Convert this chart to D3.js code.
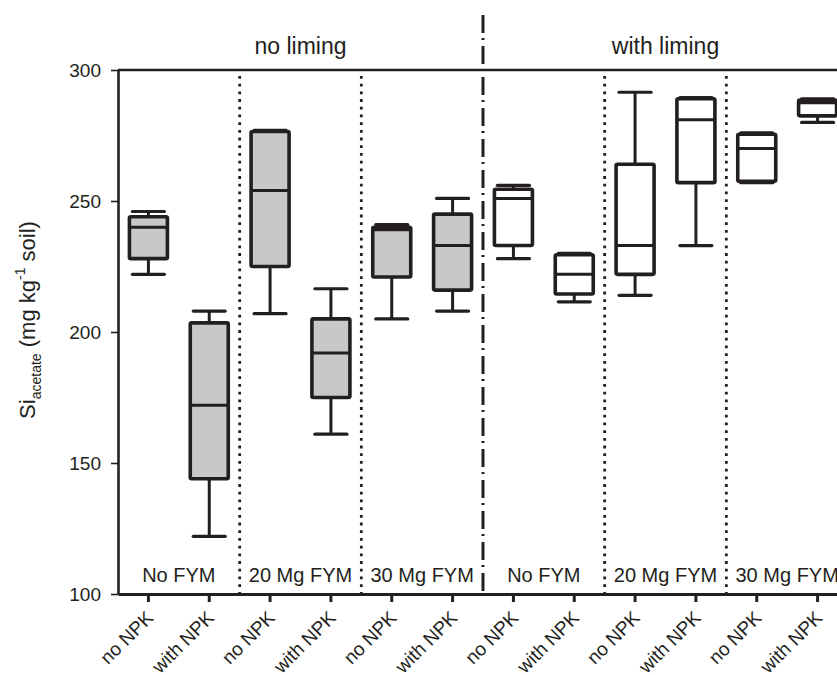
<!DOCTYPE html>
<html>
<head>
<meta charset="utf-8">
<script src="https://cdn.jsdelivr.net/npm/d3@7"></script>
<style>
body { margin: 0; background: #fff; }
text { font-family: "Liberation Sans", Arial, sans-serif; fill: #231f20; }
</style>
</head>
<body>
<div class="content"></div>
<script>
// treatment per box
var npk = ["no NPK","with NPK","no NPK","with NPK","no NPK","with NPK",
           "no NPK","with NPK","no NPK","with NPK","no NPK","with NPK"];
var liming = ["no liming","no liming","no liming","no liming","no liming","no liming",
              "with liming","with liming","with liming","with liming","with liming","with liming"];
var fym = ["No FYM","No FYM","20 Mg FYM","20 Mg FYM","30 Mg FYM","30 Mg FYM",
           "No FYM","No FYM","20 Mg FYM","20 Mg FYM","30 Mg FYM","30 Mg FYM"];
// box values (mg/kg)
var whiskerLow  = [222, 122, 207, 161, 205, 208, 228, 211.5, 214, 233, 257, 280];
var q1          = [228, 144, 225, 175, 221, 216, 233, 214.5, 222, 257, 257.5, 282.5];
var median      = [240, 172, 254, 192, 239, 233, 251, 222, 233, 281, 270, 287.5];
var q3          = [244, 203.5, 276.5, 205, 240, 245, 254.5, 229.5, 264, 289, 275.5, 288.5];
var whiskerHigh = [246, 208, 277, 216.5, 241, 251, 256, 230, 291.5, 289.5, 276, 289];
var yTicks = [100, 150, 200, 250, 300];

var width = 837, height = 675;
var svg = d3.select(".content").append("svg").attr("width", width).attr("height", height);

var ids = d3.range(npk.length);
var x = d3.scaleBand().domain(ids).range([118, 848]).padding(0);
var y = d3.scaleLinear().domain([100, 300]).range([594, 70]);
var ink = "#231f20";
var boxW = 38, capW = 32;

// separators between FYM groups (dotted) and liming (dash-dot)
ids.slice(1).forEach(function(i){
  if (i % 2 !== 0) return;
  var xs = x(i);
  if (i === 6) {
    svg.append("line").attr("x1", xs).attr("x2", xs).attr("y1", 15).attr("y2", y(100))
      .attr("stroke", ink).attr("stroke-width", 3).attr("stroke-dasharray", "18,5,2,6");
  } else {
    svg.append("line").attr("x1", xs).attr("x2", xs).attr("y1", 76).attr("y2", y(100))
      .attr("stroke", ink).attr("stroke-width", 2.8)
      .attr("stroke-dasharray", "2.8,4.9");
  }
});

// top frame
svg.append("line").attr("x1", 118).attr("x2", 848).attr("y1", y(300)).attr("y2", y(300))
  .attr("stroke", ink).attr("stroke-width", 2.6);

// boxes
var g = svg.append("g");
ids.forEach(function(i){
  var cx = x(i) + x.bandwidth() / 2;
  var fill = liming[i] === "no liming" ? "#c8c8c8" : "#fff";
  g.append("line").attr("x1", cx).attr("x2", cx).attr("y1", y(whiskerHigh[i])).attr("y2", y(whiskerLow[i]))
    .attr("stroke", ink).attr("stroke-width", 3);
  [whiskerHigh[i], whiskerLow[i]].forEach(function(v){
    g.append("line").attr("x1", cx - capW/2).attr("x2", cx + capW/2).attr("y1", y(v)).attr("y2", y(v))
      .attr("stroke", ink).attr("stroke-width", 3.2).attr("stroke-linecap", "round");
  });
  g.append("rect").attr("x", cx - boxW/2).attr("width", boxW)
    .attr("y", y(q3[i])).attr("height", y(q1[i]) - y(q3[i]))
    .attr("rx", 1.5).attr("fill", fill).attr("stroke", ink).attr("stroke-width", 3.6);
  g.append("line").attr("x1", cx - boxW/2).attr("x2", cx + boxW/2).attr("y1", y(median[i])).attr("y2", y(median[i]))
    .attr("stroke", ink).attr("stroke-width", 3);
});

// axes
var xAxis = svg.append("g").attr("transform", "translate(0," + y(100) + ")")
  .call(d3.axisBottom(x).tickSize(8).tickSizeOuter(0).tickFormat(function(i){ return npk[i]; }));
xAxis.select(".domain").attr("stroke", ink).attr("stroke-width", 2.8);
xAxis.selectAll(".tick line").attr("stroke", ink).attr("stroke-width", 3);
xAxis.selectAll(".tick text")
  .attr("font-size", 19).attr("text-anchor", "end").attr("dy", null).attr("y", 0)
  .attr("transform", "translate(6,25) rotate(-45)");

var yAxis = svg.append("g").attr("transform", "translate(118,0)")
  .call(d3.axisLeft(y).tickValues(yTicks).tickSize(7).tickSizeOuter(0));
yAxis.select(".domain").attr("stroke", ink).attr("stroke-width", 2.6);
yAxis.selectAll(".tick line").attr("stroke", ink).attr("stroke-width", 1.6);
yAxis.selectAll(".tick text").attr("font-size", 19).attr("x", -17);

// group labels
var groups = d3.groups(ids, function(i){ return liming[i] + "|" + fym[i]; });
groups.forEach(function(gr){
  var a = gr[1][0], b = gr[1][gr[1].length - 1];
  var cx = (x(a) + x(b) + x.bandwidth()) / 2;
  svg.append("text").attr("x", cx).attr("y", 582).attr("text-anchor", "middle")
    .attr("font-size", 20).text(fym[a]);
});
d3.groups(ids, function(i){ return liming[i]; }).forEach(function(gr){
  var a = gr[1][0], b = gr[1][gr[1].length - 1];
  var cx = (x(a) + x(b) + x.bandwidth()) / 2;
  svg.append("text").attr("x", cx).attr("y", 54).attr("text-anchor", "middle")
    .attr("font-size", 23).text(gr[0]);
});

// y label
var yl = svg.append("text").attr("transform", "translate(35,320) rotate(-90)")
  .attr("text-anchor", "middle").attr("font-size", 22);
yl.append("tspan").text("Si");
yl.append("tspan").attr("font-size", 14).attr("dy", 6).text("acetate");
yl.append("tspan").attr("dy", -6).text(" (mg kg");
yl.append("tspan").attr("font-size", 14).attr("dy", -10).text("-1");
yl.append("tspan").attr("dy", 10).text(" soil)");
</script>
</body>
</html>
